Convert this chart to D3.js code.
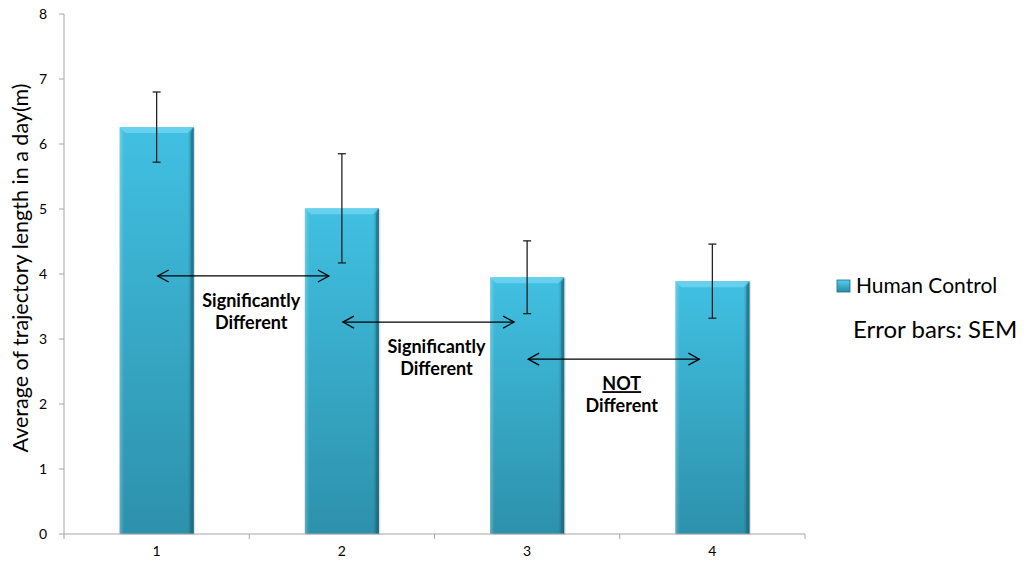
<!DOCTYPE html>
<html><head><meta charset="utf-8">
<script src="https://cdn.jsdelivr.net/npm/d3@7"></script>
<style>body{margin:0;background:#fff}svg{display:block;font-family:Lato,"Open Sans",sans-serif}</style>
</head><body><svg id="c" width="1029" height="567"></svg>
<script>
const categories = ["1","2","3","4"];
const values = [6.26, 5.01, 3.95, 3.89];
const sem = [0.54, 0.84, 0.56, 0.57];
const yTicks = [0,1,2,3,4,5,6,7,8];
const seriesName = "Human Control";
const annotations = [
  {from:0, to:1, y:3.97, lines:["Significantly","Different"], underline:false},
  {from:1, to:2, y:3.26, lines:["Significantly","Different"], underline:false},
  {from:2, to:3, y:2.69, lines:["NOT","Different"], underline:true}
];

const svg = d3.select("#c");
const x0 = 64, x1 = 805, yTop = 14, yBot = 534;
const x = d3.scaleBand().domain(categories).range([x0, x1]).paddingInner(0.6).paddingOuter(0.3);
const xb = d3.scaleBand().domain(categories).range([x0, x1]);
const y = d3.scaleLinear().domain([0, 8]).range([yBot, yTop]);

const defs = svg.append("defs");
const g = defs.append("linearGradient").attr("id","bg").attr("x1",0).attr("y1",0).attr("x2",0).attr("y2",1);
g.append("stop").attr("offset","0%").attr("stop-color","#41c0e2");
g.append("stop").attr("offset","100%").attr("stop-color","#2d91ab");
const gh = defs.append("linearGradient").attr("id","bh").attr("x1",0).attr("y1",0).attr("x2",1).attr("y2",0);
gh.append("stop").attr("offset","0%").attr("stop-color","#ffffff").attr("stop-opacity",0.25);
gh.append("stop").attr("offset","6%").attr("stop-color","#ffffff").attr("stop-opacity",0);
gh.append("stop").attr("offset","92%").attr("stop-color","#000000").attr("stop-opacity",0);
gh.append("stop").attr("offset","100%").attr("stop-color","#000000").attr("stop-opacity",0.3);

// axes
svg.append("line").attr("x1",x0).attr("x2",x0).attr("y1",yTop).attr("y2",yBot).attr("stroke","#a6a6a6");
svg.selectAll(".yt").data(yTicks).join("line").attr("x1",x0-5).attr("x2",x0).attr("y1",d=>y(d)).attr("y2",d=>y(d)).attr("stroke","#a6a6a6");
svg.selectAll(".yl").data(yTicks).join("text").attr("x",x0-17).attr("y",d=>y(d)+5).attr("text-anchor","end").attr("font-size",14).attr("fill","#000").text(d=>d);

// bars
const bars = svg.append("g");
categories.forEach((c,i)=>{
  const bx = x(c), bw = x.bandwidth(), by = y(values[i]), bh = yBot - by;
  bars.append("rect").attr("x",bx+1.5).attr("y",by+1).attr("width",bw).attr("height",bh).attr("fill","#000").attr("opacity",0.12);
  bars.append("rect").attr("x",bx).attr("y",by).attr("width",bw).attr("height",bh).attr("fill","url(#bg)");
  bars.append("rect").attr("x",bx).attr("y",by).attr("width",bw).attr("height",bh).attr("fill","url(#bh)");
  bars.append("path").attr("d",`M${bx},${by}L${bx+bw},${by}L${bx+bw-6},${by+6}L${bx+6},${by+6}Z`).attr("fill","#6fd6f0").attr("opacity",0.8);
  bars.append("path").attr("d",`M${bx+bw},${by}L${bx+bw},${yBot}L${bx+bw-3},${yBot}L${bx+bw-3},${by+6}Z`).attr("fill","#1d6c82").attr("opacity",0.6);
});

// x axis
svg.append("line").attr("x1",x0).attr("x2",x1).attr("y1",yBot).attr("y2",yBot).attr("stroke","#a6a6a6");
const bounds = categories.map(c=>xb(c)).concat([x1]);
svg.selectAll(".xt").data(bounds).join("line").attr("x1",d=>d).attr("x2",d=>d).attr("y1",yBot).attr("y2",yBot+5).attr("stroke","#a6a6a6");
svg.selectAll(".xl").data(categories).join("text").attr("x",d=>x(d)+x.bandwidth()/2).attr("y",yBot+22).attr("text-anchor","middle").attr("font-size",14).text(d=>d);

// error bars
categories.forEach((c,i)=>{
  const cx = x(c)+x.bandwidth()/2;
  const hi = y(values[i]+sem[i]), lo = y(values[i]-sem[i]);
  svg.append("line").attr("x1",cx).attr("x2",cx).attr("y1",hi).attr("y2",lo).attr("stroke","#222").attr("stroke-width",1.3);
  svg.append("line").attr("x1",cx-4).attr("x2",cx+4).attr("y1",hi).attr("y2",hi).attr("stroke","#222").attr("stroke-width",1.3);
  svg.append("line").attr("x1",cx-4).attr("x2",cx+4).attr("y1",lo).attr("y2",lo).attr("stroke","#222").attr("stroke-width",1.3);
});

// annotations
annotations.forEach(a=>{
  const xa = x(categories[a.from]) + x.bandwidth()/2 + 1;
  const xe = x(categories[a.to]) + x.bandwidth()/2 - 13;
  const yy = y(a.y);
  svg.append("line").attr("x1",xa).attr("x2",xe).attr("y1",yy).attr("y2",yy).attr("stroke","#000").attr("stroke-width",1.2);
  svg.append("path").attr("d",`M${xa+11},${yy-6}L${xa},${yy}L${xa+11},${yy+6}`).attr("fill","none").attr("stroke","#000").attr("stroke-width",1.2);
  svg.append("path").attr("d",`M${xe-11},${yy-6}L${xe},${yy}L${xe-11},${yy+6}`).attr("fill","none").attr("stroke","#000").attr("stroke-width",1.2);
  const tx = xb(categories[a.to]) + 2;
  a.lines.forEach((t,k)=>{
    const te = svg.append("text").attr("x",tx).attr("y",yy+31+k*22).attr("text-anchor","middle").attr("font-size",18).attr("font-weight","bold").text(t);
    if(a.underline && k===0) te.attr("text-decoration","underline");
  });
});

// y title
svg.append("text").attr("transform",`translate(28,${(yTop+yBot)/2 - 6}) rotate(-90)`).attr("text-anchor","middle").attr("font-size",21.5).text("Average of trajectory length in a day(m)");

// legend
const lg = defs.append("linearGradient").attr("id","lg").attr("x1",0).attr("y1",0).attr("x2",0).attr("y2",1);
lg.append("stop").attr("offset","0%").attr("stop-color","#55cdee");
lg.append("stop").attr("offset","100%").attr("stop-color","#2a8aa5");
svg.append("rect").attr("x",837).attr("y",280).attr("width",13).attr("height",12).attr("fill","url(#lg)").attr("stroke","#1f6f86").attr("stroke-width",0.8);
svg.append("text").attr("x",856).attr("y",293).attr("font-size",21).text(seriesName);
svg.append("text").attr("x",853).attr("y",338).attr("font-size",24).text("Error bars: SEM");
</script></body></html>
